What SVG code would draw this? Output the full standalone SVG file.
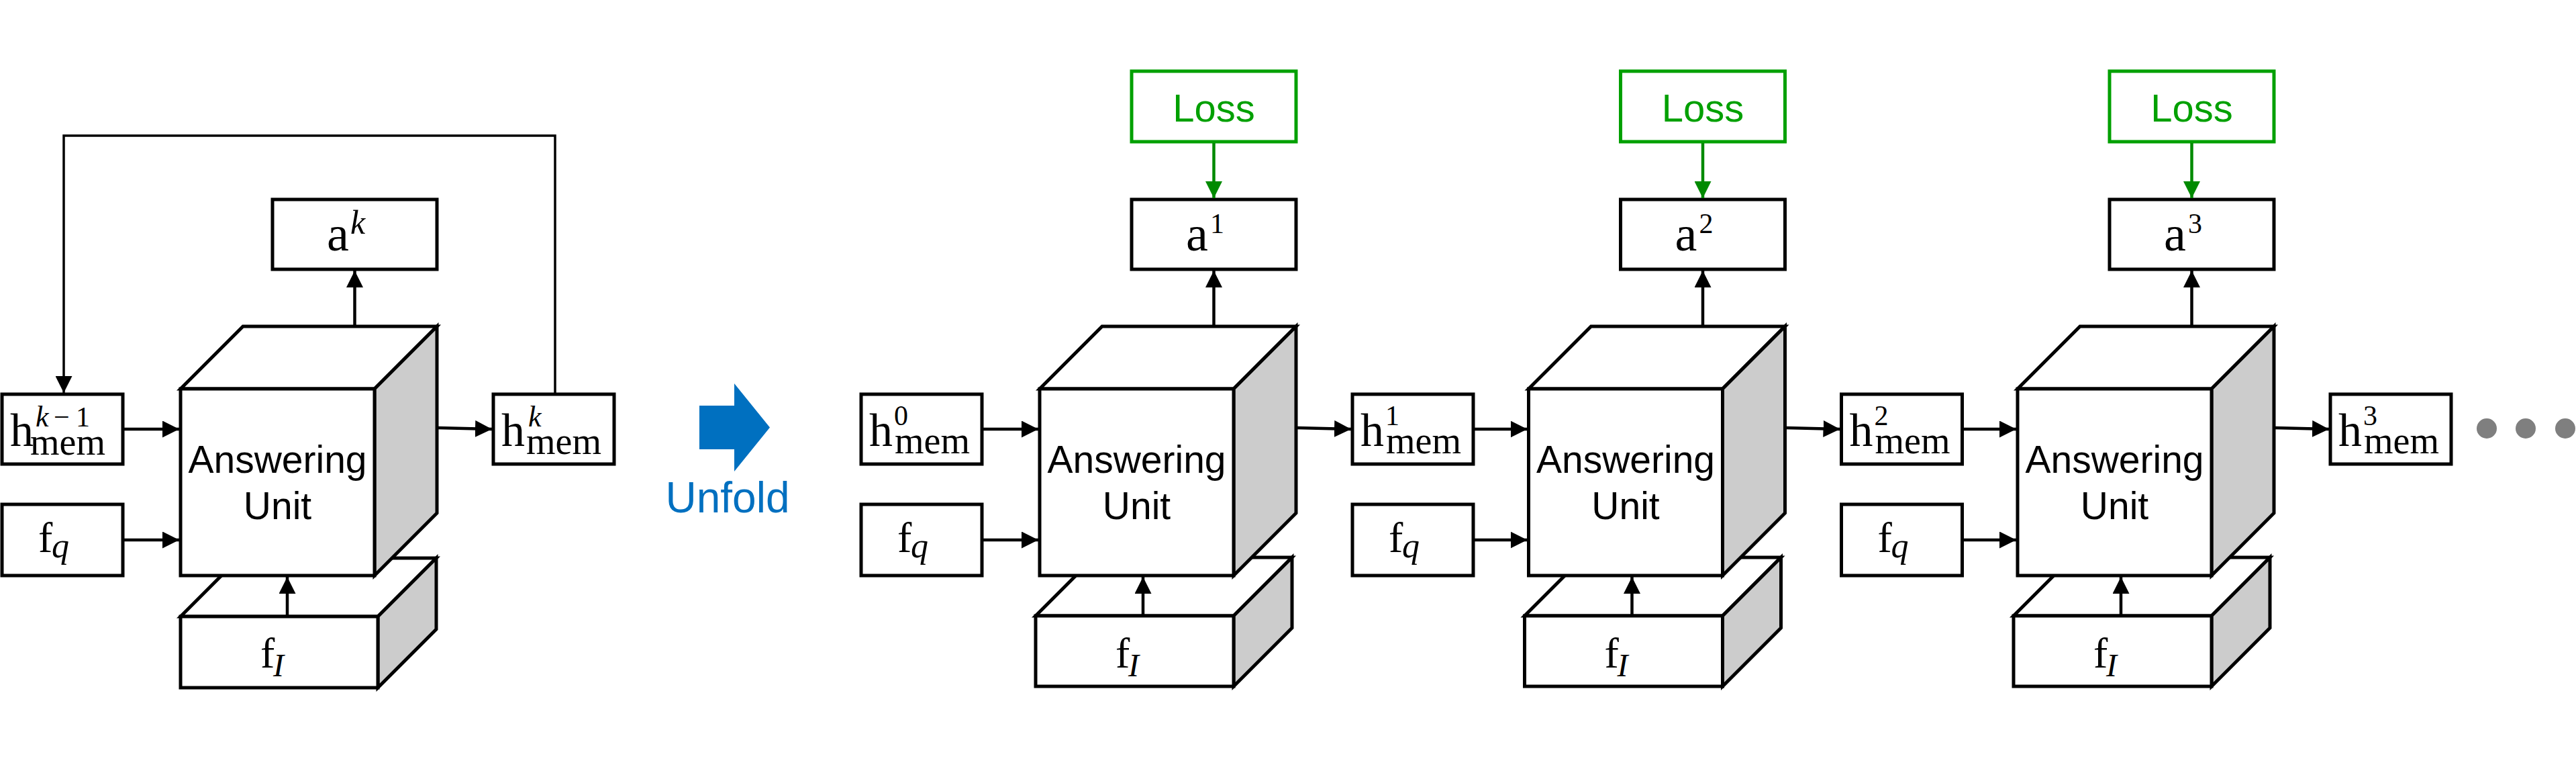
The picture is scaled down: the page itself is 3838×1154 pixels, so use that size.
<svg xmlns="http://www.w3.org/2000/svg" width="3838" height="1154" viewBox="0 0 3838 1154">
<style>
.box{fill:#fff;stroke:#000;stroke-width:5}
.gbox{fill:#fff;stroke:#00A000;stroke-width:5}
.face{fill:#fff;stroke:#000;stroke-width:5;stroke-linejoin:miter}
.side{fill:#ccc;stroke:#000;stroke-width:5;stroke-linejoin:miter}
.conn{stroke:#000;stroke-width:4.5;fill:none}
.gconn{stroke:#008A00;stroke-width:4.5;fill:none}
.m{font-family:"Liberation Serif","Times New Roman",serif;font-size:70px;fill:#000}
.a{font-size:74px}
.f{font-size:64px}
.sup{font-size:42px}
.supk{font-size:44px;font-style:italic}
.sub{font-size:56px}
.q{font-size:52px;font-style:italic}
.I{font-size:48px;font-style:italic}
.lbl{font-family:"Liberation Sans",Arial,sans-serif;font-size:57px;text-anchor:middle;fill:#000}
.loss{font-family:"Liberation Sans",Arial,sans-serif;font-size:58px;text-anchor:middle;fill:#00A000}
.dot{fill:#7f7f7f}
</style>
<defs>
<marker id="ah" markerUnits="userSpaceOnUse" markerWidth="25" markerHeight="25" refX="25" refY="12.5" orient="auto" viewBox="0 0 25 25"><path d="M0,0 L25,12.5 L0,25 z" fill="#000"/></marker>
<marker id="gah" markerUnits="userSpaceOnUse" markerWidth="25" markerHeight="25" refX="25" refY="12.5" orient="auto" viewBox="0 0 25 25"><path d="M0,0 L25,12.5 L0,25 z" fill="#008A00"/></marker>
</defs>
<rect width="3838" height="1154" fill="#fff"/>

<!-- ===== Left (folded) diagram ===== -->
<g id="slab_left">
<polygon class="face" points="269,918 356,831 650,831 563,918"/>
<polygon class="side" points="563,918 650,831 650,937 563,1024"/>
<rect class="face" x="269" y="918" width="294" height="106"/>
<text class="m f" x="388" y="994">f<tspan class="I" x="407" y="1007">I</tspan></text>
</g>
<g id="cube_left">
<polygon class="face" points="269,579 362,486 651,486 558,579"/>
<polygon class="side" points="558,579 651,486 651,764 558,857"/>
<rect class="face" x="269" y="579" width="289" height="278"/>
<text class="lbl" x="413.5" y="704">Answering</text>
<text class="lbl" x="413.5" y="773">Unit</text>
</g>
<g id="a_k">
<rect class="box" x="406" y="297" width="245" height="104"/>
<text class="m a" x="487" y="373">a<tspan class="supk" x="522" y="348" style="font-size:50px">k</tspan></text>
</g>
<g id="h_mem_k_minus_1">
<rect class="box" x="3" y="587" width="180" height="104"/>
<text class="m" x="15" y="664">h<tspan class="supk" x="53" y="635">k</tspan><tspan x="80" y="635" style="font-size:42px">−</tspan><tspan x="113" y="635" style="font-size:42px">1</tspan><tspan class="sub" x="45" y="677">mem</tspan></text>
</g>
<g id="f_q_left">
<rect class="box" x="3" y="751" width="180" height="106"/>
<text class="m f" x="57" y="822">f<tspan class="q" x="77" y="830">q</tspan></text>
</g>
<g id="h_mem_k">
<rect class="box" x="735" y="587" width="180" height="104"/>
<text class="m" x="747" y="664">h<tspan class="supk" x="787" y="635">k</tspan><tspan class="sub" x="784" y="676">mem</tspan></text>
</g>

<!-- ===== Unfold arrow ===== -->
<g id="unfold">
<polygon points="1042,604 1094,604 1094,571 1147,636.5 1094,702 1094,669 1042,669" fill="#0070C0"/>
<text x="1084" y="763" font-family="'Liberation Sans',Arial,sans-serif" font-size="64" text-anchor="middle" fill="#0070C0">Unfold</text>
</g>

<!-- ===== Unit 1 ===== -->
<g id="slab_1">
<polygon class="face" points="1543,917 1630,830 1925,830 1838,917"/>
<polygon class="side" points="1838,917 1925,830 1925,935 1838,1022"/>
<rect class="face" x="1543" y="917" width="295" height="105"/>
<text class="m f" x="1662" y="994">f<tspan class="I" x="1681" y="1007">I</tspan></text>
</g>
<g id="cube_1">
<polygon class="face" points="1549,579 1642,486 1931,486 1838,579"/>
<polygon class="side" points="1838,579 1931,486 1931,764 1838,857"/>
<rect class="face" x="1549" y="579" width="289" height="278"/>
<text class="lbl" x="1693.5" y="704">Answering</text>
<text class="lbl" x="1693.5" y="773">Unit</text>
</g>
<g id="loss_1">
<rect class="gbox" x="1686" y="106" width="245" height="105"/>
<text class="loss" x="1808.5" y="181">Loss</text>
</g>
<g id="a_1">
<rect class="box" x="1686" y="297" width="245" height="104"/>
<text class="m a" x="1767" y="373">a<tspan class="sup" x="1803" y="347">1</tspan></text>
</g>
<g id="h_mem_0">
<rect class="box" x="1283" y="587" width="180" height="104"/>
<text class="m" x="1295" y="664">h<tspan class="sup" x="1332" y="633">0</tspan><tspan class="sub" x="1333" y="675">mem</tspan></text>
</g>
<g id="f_q_1">
<rect class="box" x="1283" y="751" width="180" height="106"/>
<text class="m f" x="1337" y="822">f<tspan class="q" x="1357" y="830">q</tspan></text>
</g>
<g id="h_mem_1">
<rect class="box" x="2015" y="587" width="180" height="104"/>
<text class="m" x="2027" y="664">h<tspan class="sup" x="2064" y="633">1</tspan><tspan class="sub" x="2065" y="675">mem</tspan></text>
</g>

<!-- ===== Unit 2 ===== -->
<g id="slab_2">
<polygon class="face" points="2271.5,917 2358.5,830 2653.5,830 2566.5,917"/>
<polygon class="side" points="2566.5,917 2653.5,830 2653.5,935 2566.5,1022"/>
<rect class="face" x="2271.5" y="917" width="295" height="105"/>
<text class="m f" x="2390.5" y="994">f<tspan class="I" x="2409.5" y="1007">I</tspan></text>
</g>
<g id="cube_2">
<polygon class="face" points="2277.5,579 2370.5,486 2659.5,486 2566.5,579"/>
<polygon class="side" points="2566.5,579 2659.5,486 2659.5,764 2566.5,857"/>
<rect class="face" x="2277.5" y="579" width="289" height="278"/>
<text class="lbl" x="2422" y="704">Answering</text>
<text class="lbl" x="2422" y="773">Unit</text>
</g>
<g id="loss_2">
<rect class="gbox" x="2414.5" y="106" width="245" height="105"/>
<text class="loss" x="2537" y="181">Loss</text>
</g>
<g id="a_2">
<rect class="box" x="2414.5" y="297" width="245" height="104"/>
<text class="m a" x="2495.5" y="373">a<tspan class="sup" x="2531.5" y="347">2</tspan></text>
</g>
<g id="f_q_2">
<rect class="box" x="2015" y="751" width="180" height="106"/>
<text class="m f" x="2069" y="822">f<tspan class="q" x="2089" y="830">q</tspan></text>
</g>
<g id="h_mem_2">
<rect class="box" x="2743.5" y="587" width="180" height="104"/>
<text class="m" x="2755.5" y="664">h<tspan class="sup" x="2792.5" y="633">2</tspan><tspan class="sub" x="2793.5" y="675">mem</tspan></text>
</g>

<!-- ===== Unit 3 ===== -->
<g id="slab_3">
<polygon class="face" points="3000,917 3087,830 3382,830 3295,917"/>
<polygon class="side" points="3295,917 3382,830 3382,935 3295,1022"/>
<rect class="face" x="3000" y="917" width="295" height="105"/>
<text class="m f" x="3119" y="994">f<tspan class="I" x="3138" y="1007">I</tspan></text>
</g>
<g id="cube_3">
<polygon class="face" points="3006,579 3099,486 3388,486 3295,579"/>
<polygon class="side" points="3295,579 3388,486 3388,764 3295,857"/>
<rect class="face" x="3006" y="579" width="289" height="278"/>
<text class="lbl" x="3150.5" y="704">Answering</text>
<text class="lbl" x="3150.5" y="773">Unit</text>
</g>
<g id="loss_3">
<rect class="gbox" x="3143" y="106" width="245" height="105"/>
<text class="loss" x="3265.5" y="181">Loss</text>
</g>
<g id="a_3">
<rect class="box" x="3143" y="297" width="245" height="104"/>
<text class="m a" x="3224" y="373">a<tspan class="sup" x="3260" y="347">3</tspan></text>
</g>
<g id="f_q_3">
<rect class="box" x="2743.5" y="751" width="180" height="106"/>
<text class="m f" x="2797.5" y="822">f<tspan class="q" x="2817.5" y="830">q</tspan></text>
</g>
<g id="h_mem_3">
<rect class="box" x="3472" y="587" width="180" height="104"/>
<text class="m" x="3484" y="664">h<tspan class="sup" x="3521" y="633">3</tspan><tspan class="sub" x="3522" y="675">mem</tspan></text>
</g>

<g id="ellipsis">
<circle class="dot" cx="3705" cy="638" r="15"/>
<circle class="dot" cx="3763" cy="638" r="15"/>
<circle class="dot" cx="3822" cy="638" r="15"/>
</g>

<!-- ===== Connectors ===== -->
<g id="connectors">
<polyline class="conn" points="827,585 827,202 95,202 95,585" marker-end="url(#ah)" style="stroke-width:3.5"/>
<line class="conn" x1="185" y1="639" x2="267" y2="639" marker-end="url(#ah)"/>
<line class="conn" x1="185" y1="804" x2="267" y2="804" marker-end="url(#ah)"/>
<line class="conn" x1="651" y1="637" x2="733" y2="639" marker-end="url(#ah)"/>
<line class="conn" x1="528.5" y1="484" x2="528.5" y2="403" marker-end="url(#ah)"/>
<line class="conn" x1="428" y1="918" x2="428" y2="859" marker-end="url(#ah)"/>
<line class="conn" x1="1465" y1="639" x2="1547" y2="639" marker-end="url(#ah)"/>
<line class="conn" x1="1465" y1="804" x2="1547" y2="804" marker-end="url(#ah)"/>
<line class="conn" x1="1931" y1="637" x2="2013" y2="639" marker-end="url(#ah)"/>
<line class="conn" x1="1808.5" y1="484" x2="1808.5" y2="403" marker-end="url(#ah)"/>
<line class="conn" x1="1703" y1="917" x2="1703" y2="859" marker-end="url(#ah)"/>
<line class="gconn" x1="1808.5" y1="213" x2="1808.5" y2="295" marker-end="url(#gah)"/>
<line class="conn" x1="2197" y1="639" x2="2275.5" y2="639" marker-end="url(#ah)"/>
<line class="conn" x1="2197" y1="804" x2="2275.5" y2="804" marker-end="url(#ah)"/>
<line class="conn" x1="2659.5" y1="637" x2="2741.5" y2="639" marker-end="url(#ah)"/>
<line class="conn" x1="2537" y1="484" x2="2537" y2="403" marker-end="url(#ah)"/>
<line class="conn" x1="2431.5" y1="917" x2="2431.5" y2="859" marker-end="url(#ah)"/>
<line class="gconn" x1="2537" y1="213" x2="2537" y2="295" marker-end="url(#gah)"/>
<line class="conn" x1="2925.5" y1="639" x2="3004" y2="639" marker-end="url(#ah)"/>
<line class="conn" x1="2925.5" y1="804" x2="3004" y2="804" marker-end="url(#ah)"/>
<line class="conn" x1="3388" y1="637" x2="3470" y2="639" marker-end="url(#ah)"/>
<line class="conn" x1="3265.5" y1="484" x2="3265.5" y2="403" marker-end="url(#ah)"/>
<line class="conn" x1="3160" y1="917" x2="3160" y2="859" marker-end="url(#ah)"/>
<line class="gconn" x1="3265.5" y1="213" x2="3265.5" y2="295" marker-end="url(#gah)"/>
</g>
</svg>
